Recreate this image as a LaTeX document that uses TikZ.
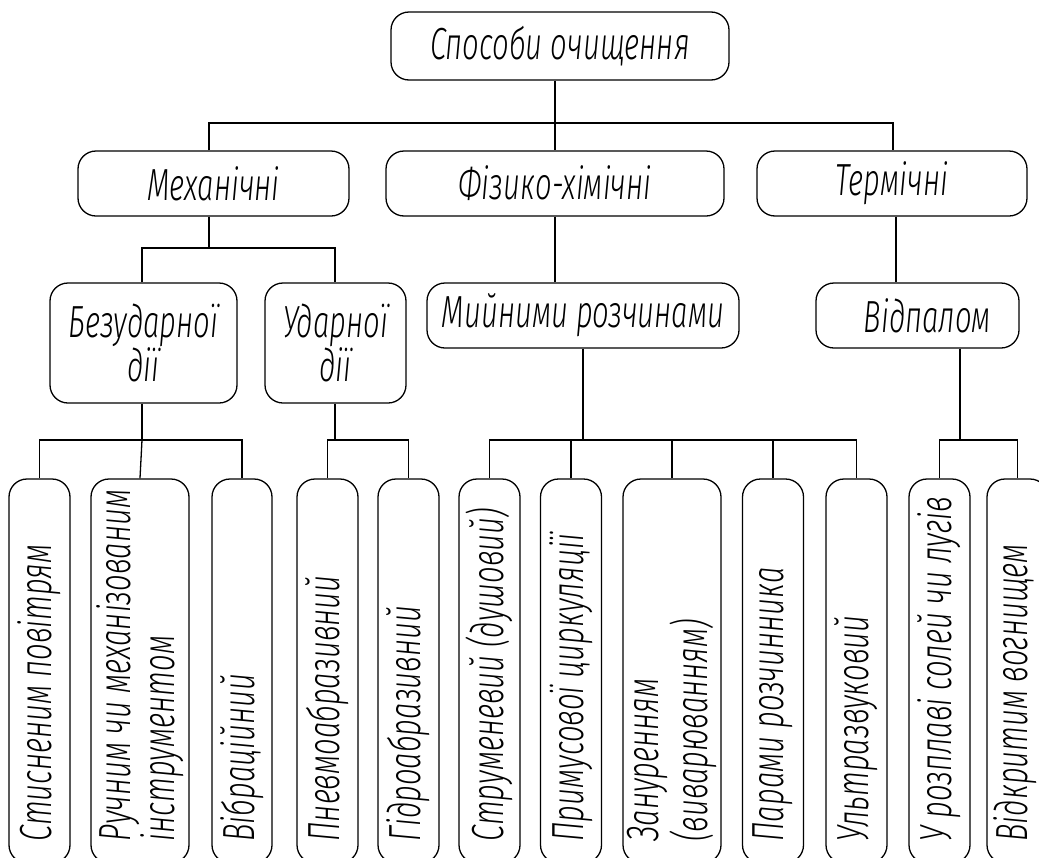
\documentclass[tikz,border=0pt]{standalone}
\usepackage{fontspec}
\setmainfont{Fira Sans}[UprightFont={* Light}, ItalicFont={* Light Italic}, FakeStretch=0.65]
\newcommand\gostfont{\fontsize{45}{38}\selectfont\itshape}
\begin{document}
\begin{tikzpicture}[x=1pt,y=-1pt,
  box/.style={draw,line width=1.3pt,rounded corners=18pt,inner sep=0pt,align=center,font=\gostfont},
  vbox/.style={draw,line width=1.3pt,rounded corners=18pt,minimum height=384pt,inner sep=0pt},
  vtext/.style={rotate=90,anchor=west,align=left,inner sep=0pt,font=\gostfont},
  link/.style={line width=1.3pt}]
\useasboundingbox (0,0) rectangle (1039,857);
% level 0
\node[box,minimum width=338pt,minimum height=68pt] (top) at (560,46) {Способи очищення};
% level 1
\node[box,minimum width=271pt,minimum height=65pt] (mech) at (213.5,183.5) {Механічні};
\node[box,minimum width=338pt,minimum height=65pt] (phys) at (555,183.5) {Фізико-хімічні};
\node[box,minimum width=270pt,minimum height=65pt] (therm) at (892,183.5) {Термічні};
% level 2
\node[box,minimum width=187pt,minimum height=120pt] (bez) at (143.5,343) {Безударної\\дії};
\node[box,minimum width=141pt,minimum height=120pt] (udar) at (335.5,343) {Ударної\\дії};
\node[box,minimum width=312pt,minimum height=65pt] (myin) at (583,315.5) {Мийними розчинами};
\node[box,minimum width=203pt,minimum height=65pt] (vidp) at (917.5,315.5) {\hspace*{20pt}Відпалом};
% level 3 boxes
\node[vbox,minimum width=61pt] (b1) at (39.5,671) {};
\node[vbox,minimum width=98pt] (b2) at (140,671) {};
\node[vbox,minimum width=60pt] (b3) at (242,671) {};
\node[vbox,minimum width=61pt] (b4) at (327.5,671) {};
\node[vbox,minimum width=61pt] (b5) at (408.5,671) {};
\node[vbox,minimum width=61pt] (b6) at (489.5,671) {};
\node[vbox,minimum width=61pt] (b7) at (571,671) {};
\node[vbox,minimum width=98pt] (b8) at (672,671) {};
\node[vbox,minimum width=61pt] (b9) at (773,671) {};
\node[vbox,minimum width=61pt] (b10) at (856.5,671) {};
\node[vbox,minimum width=61pt] (b11) at (939.5,671) {};
\node[vbox,minimum width=61pt] (b12) at (1017.5,671) {};
% texts
\node[vtext] (t1) at ([yshift=22pt]b1.south) {Стисненим повітрям};
\node[vtext] (t2) at ([yshift=22pt]b2.south) {Ручним чи механізованим\\інструментом};
\node[vtext] (t3) at ([yshift=22pt]b3.south) {Вібраційний};
\node[vtext] (t4) at ([yshift=22pt]b4.south) {Пневмоабразивний};
\node[vtext] (t5) at ([yshift=22pt]b5.south) {Гідроабразивний};
\node[vtext] (t6) at ([yshift=22pt]b6.south) {Струменевий (душовий)};
\node[vtext] (t7) at ([yshift=22pt]b7.south) {Примусової циркуляції};
\node[vtext] (t8) at ([yshift=22pt]b8.south) {Зануренням\\(виварюванням)};
\node[vtext] (t9) at ([yshift=22pt]b9.south) {Парами розчинника};
\node[vtext] (t10) at ([yshift=22pt]b10.south) {Ультразвуковий};
\node[vtext] (t11) at ([yshift=22pt]b11.south) {У розплаві солей чи лугів};
\node[vtext] (t12) at ([xshift=-2pt,yshift=22pt]b12.south) {Відкритим вогнищем};
% junction coordinates
\coordinate (a0) at (555,123);
\coordinate (a1) at (209,123);
\coordinate (a3) at (893,123);
\coordinate (m0) at (209,248);
\coordinate (m1) at (142,248);
\coordinate (m2) at (335,248);
\coordinate (t0) at (896,248);
\coordinate (p0) at (555,248);
\coordinate (q1) at (142,440);
\coordinate (q2) at (335,440);
\coordinate (q3) at (583,440);
\coordinate (q4) at (960,440);
% connectors
\draw[link] (a0 |- top.south) -- (a0);
\draw[link] (a1 |- mech.north) -- (a1) -- (a3) -- (a3 |- therm.north);
\draw[link] (a0) -- (a0 |- phys.north);
\draw[link] (m0 |- mech.south) -- (m0);
\draw[link] (m1 |- bez.north) -- (m1) -- (m2) -- (m2 |- udar.north);
\draw[link] (p0 |- phys.south) -- (p0 |- myin.north);
\draw[link] (t0 |- therm.south) -- (t0 |- vidp.north);
\draw[link] (q1 |- bez.south) -- (q1);
\draw[link] (b1.north) -- (b1.north |- q1) -- (b3.north |- q1) -- (b3.north);
\draw[link] (q1) -- (b2.north);
\draw[link] (q2 |- udar.south) -- (q2);
\draw[link] (b4.north) -- (b4.north |- q2) -- (b5.north |- q2) -- (b5.north);
\draw[link] (q3 |- myin.south) -- (q3);
\draw[link] (b6.north) -- (b6.north |- q3) -- (b10.north |- q3) -- (b10.north);
\draw[link] (b7.north |- q3) -- (b7.north);
\draw[link] (b8.north |- q3) -- (b8.north);
\draw[link] (b9.north |- q3) -- (b9.north);
\draw[link] (q4 |- vidp.south) -- (q4);
\draw[link] (b11.north) -- (b11.north |- q4) -- (b12.north |- q4) -- (b12.north);
\end{tikzpicture}
\end{document}
